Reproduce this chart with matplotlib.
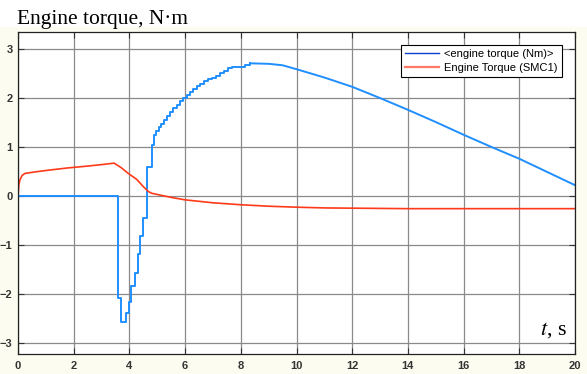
"""Engine torque chart: measured torque vs SMC1 torque."""

import matplotlib.pyplot as plt
from matplotlib.lines import Line2D
from matplotlib.patches import Rectangle

plt.rcParams["mathtext.fontset"] = "stix"

# <engine torque (Nm)> : staircase part (steps-post), then smooth tail
blue_step_t = [0.0, 3.60, 3.70, 3.88, 3.99, 4.07, 4.20, 4.30, 4.38, 4.50, 4.62,
               4.80, 4.88, 4.97, 5.06, 5.15, 5.25, 5.36, 5.47, 5.58, 5.70,
               5.82, 5.94, 6.06, 6.18, 6.30, 6.42, 6.55, 6.68, 6.82, 6.96,
               7.10, 7.25, 7.40, 7.54, 7.70, 7.97, 8.15, 8.33]
blue_step_v = [0.0, -2.09, -2.58, -2.40, -2.16, -1.85, -1.57, -1.19, -0.82, -0.45, 0.60,
               1.05, 1.25, 1.33, 1.40, 1.48, 1.56, 1.64, 1.72, 1.79, 1.86,
               1.93, 2.00, 2.06, 2.12, 2.18, 2.24, 2.29, 2.34, 2.38, 2.42,
               2.46, 2.51, 2.56, 2.61, 2.63, 2.64, 2.68, 2.71]
blue_tail_t = [8.33, 9.0, 9.5, 10, 11, 12, 13, 14, 15, 16, 17, 18, 19, 20]
blue_tail_v = [2.71, 2.70, 2.67, 2.59, 2.42, 2.23, 2.00, 1.76, 1.51, 1.25, 1.00, 0.76, 0.49, 0.22]

# Engine Torque (SMC1)
red_t = [0.0, 0.03, 0.07, 0.15, 0.25, 0.6, 1.0, 1.75, 2.5, 3.0, 3.3, 3.45, 3.7,
         3.96, 4.26, 4.5, 4.68, 4.8, 5.0, 5.5, 6.0, 7.0, 8.0, 9.0, 10.0, 11.0,
         12.0, 14.0, 16.0, 20.0]
red_v = [0.0, 0.22, 0.33, 0.42, 0.46, 0.49, 0.52, 0.57, 0.61, 0.64, 0.66, 0.67, 0.58,
         0.46, 0.34, 0.19, 0.09, 0.055, 0.03, -0.03, -0.08, -0.14, -0.18, -0.21, -0.23, -0.245,
         -0.25, -0.26, -0.26, -0.26]

BLUE = "#1f8fff"
RED = "#ff3a1a"

fig = plt.figure(figsize=(5.87, 3.74), dpi=100)
fig.patch.set_facecolor("white")
fig.patches.append(Rectangle((0, 0), 1, 1 - 27 / 374, transform=fig.transFigure,
                             facecolor="#fdfcf1", edgecolor="none", zorder=-1))

ax = fig.add_axes([18 / 587, 20 / 374, 557 / 587, 322 / 374])
ax.set_facecolor("white")

ax.plot(blue_step_t, blue_step_v, color=BLUE, lw=1.4, drawstyle="steps-post")
ax.plot(blue_tail_t, blue_tail_v, color=BLUE, lw=1.4)
ax.plot(red_t, red_v, color=RED, lw=1.2)

ax.set_xlim(0, 20)
ax.set_ylim(-3.23, 3.35)
ax.set_xticks(range(0, 21, 2))
ax.set_yticks([-3, -2, -1, 0, 1, 2, 3])
ax.grid(True, color="#8a8a8a", lw=0.9)
ax.tick_params(direction="in", length=4, width=0.8, top=True, right=True,
               labelsize=8, labelcolor="#333333", color="#333333")
ax.tick_params(axis="x", pad=5)
ax.tick_params(axis="y", pad=4)
for lbl in ax.get_xticklabels() + ax.get_yticklabels():
    lbl.set_fontweight("bold")
    lbl.set_fontfamily("Liberation Sans")
for sp in ax.spines.values():
    sp.set_color("#222222")
    sp.set_linewidth(0.9)

fig.text(17 / 587, 1 - 24 / 374, "Engine torque, N\u00b7m", family="Liberation Serif",
         fontsize=15.5, ha="left", va="baseline")
ax.text(0.985, 0.06, r"$t$, s", transform=ax.transAxes, family="Liberation Serif",
        fontsize=16, ha="right", va="baseline")

handles = [Line2D([], [], color="#0a3fd0", lw=1.0),
           Line2D([], [], color="#ff7a66", lw=1.6)]
leg = ax.legend(handles, ["<engine torque (Nm)>", "Engine Torque (SMC1)"],
                loc="upper right", bbox_to_anchor=(0.977, 0.96), borderaxespad=0,
                prop={"family": "Liberation Sans", "size": 8},
                handlelength=3.0, handletextpad=0.5, fancybox=False,
                framealpha=1, edgecolor="black", borderpad=0.4, labelspacing=0.3)
leg.get_frame().set_linewidth(0.8)

fig.savefig("out.png", dpi=100, facecolor=fig.get_facecolor())
